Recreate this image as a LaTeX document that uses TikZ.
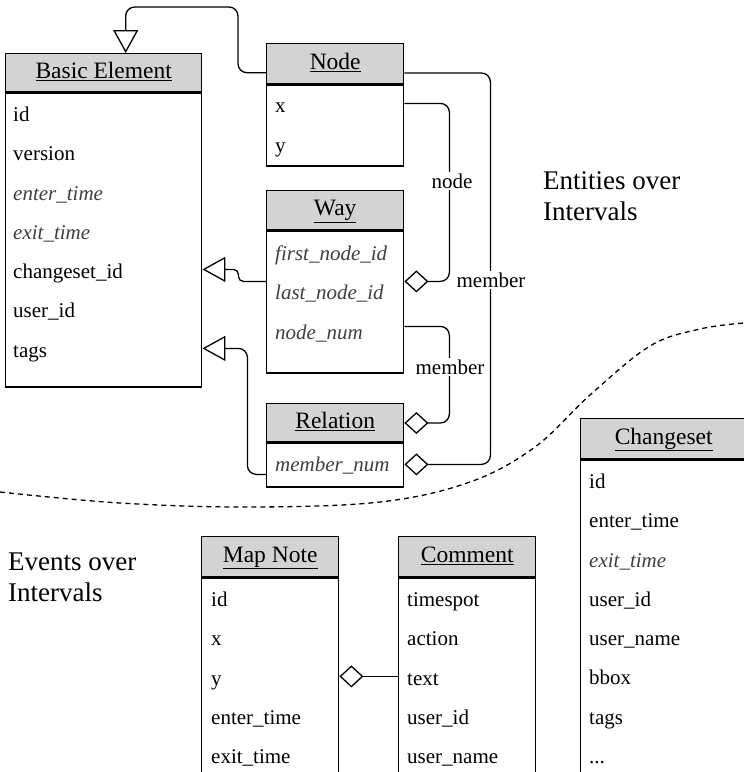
\documentclass[tikz,border=0pt]{standalone}
\usepackage{fontspec}
\setmainfont{Liberation Serif}
\usetikzlibrary{calc,arrows.meta}

\begin{document}
\begin{tikzpicture}[x=1pt, y=-1pt,
    clshead/.style={draw, line width=1.4pt, fill=hdrgray, anchor=north west, inner sep=0pt,
        text height=16pt, text depth=5pt,
        minimum height=39pt, font=\fontsize{23.5pt}{27pt}\selectfont},
    clsbody/.style={draw, line width=1.4pt, fill=white, anchor=north, inner sep=0pt},
    row/.style={anchor=base west, inner sep=0pt, font=\fontsize{21pt}{25pt}\selectfont},
    lbl/.style={fill=white, inner sep=2pt, font=\fontsize{21pt}{25pt}\selectfont},
    bigtxt/.style={anchor=west, align=left, inner sep=0pt, font=\fontsize{27pt}{31pt}\selectfont},
    gen/.style={line width=1.3pt, rounded corners=9pt, -{Triangle[open, length=23pt, width=25pt]}},
    agg/.style={line width=1.3pt, rounded corners=9pt, {Diamond[open, length=24pt, width=22pt]}-}]
    \useasboundingbox (0,0) rectangle (744,772);
    \clip (0,0) rectangle (744,772);
    \definecolor{hdrgray}{RGB}{211,211,211}
    \definecolor{optgray}{RGB}{64,64,64}
    \def\opt#1{{\itshape\color{optgray}#1}}
    \def\etc{.{}.{}.}
    \def\rowstep{39.3}

    % class boxes
    \node[clshead, minimum width=196pt, minimum height=38pt] (beHead) at (5,53) {\underline{Basic Element}};
    \node[clsbody, minimum width=196pt, minimum height=294pt] (beBody) at (beHead.south) {};
    \node[clshead, minimum width=137pt, minimum height=40pt] (nodeHead) at (266,43) {\underline{Node}};
    \node[clsbody, minimum width=137pt, minimum height=81pt] (nodeBody) at (nodeHead.south) {};
    \node[clshead, minimum width=137pt] (wayHead) at (266,190) {\underline{Way}};
    \node[clsbody, minimum width=137pt, minimum height=142pt] (wayBody) at (wayHead.south) {};
    \node[clshead, minimum width=137pt, minimum height=38pt] (relHead) at (266,403) {\underline{Relation}};
    \node[clsbody, minimum width=137pt, minimum height=44pt] (relBody) at (relHead.south) {};
    \node[clshead, minimum width=166pt, minimum height=40pt] (csHead) at (580,418) {\underline{Changeset}};
    \node[clsbody, minimum width=166pt, minimum height=360pt] (csBody) at (csHead.south) {};
    \node[clshead, minimum width=137pt, minimum height=40pt] (mnHead) at (201,536) {\underline{Map Note}};
    \node[clsbody, minimum width=137pt, minimum height=240pt] (mnBody) at (mnHead.south) {};
    \node[clshead, minimum width=137pt, minimum height=40pt] (cmHead) at (398,536) {\underline{Comment}};
    \node[clsbody, minimum width=137pt, minimum height=240pt] (cmBody) at (cmHead.south) {};

    % attributes (base line about 7pt under the row middle)
    \foreach \txt [count=\i] in {id, version, \opt{enter\_time}, \opt{exit\_time}, changeset\_id, user\_id, tags}
        \node[row] (be\i) at ($(beBody.north west)+(8,{29+\rowstep*(\i-1)})$) {\txt};
    \foreach \txt [count=\i] in {x, y}
        \node[row] (nd\i) at ($(nodeBody.north west)+(9,{28+40*(\i-1)})$) {\txt};
    \foreach \txt [count=\i] in {\opt{first\_node\_id}, \opt{last\_node\_id}, \opt{node\_num}}
        \node[row] (wy\i) at ($(wayBody.north west)+(9,{30+\rowstep*(\i-1)})$) {\txt};
    \node[row] (rl1) at ($(relBody.north west)+(9,29)$) {\opt{member\_num}};
    \foreach \txt [count=\i] in {id, enter\_time, \opt{exit\_time}, user\_id, user\_name, bbox, tags, \etc}
        \node[row] (cs\i) at ($(csBody.north west)+(9,{29+\rowstep*(\i-1)})$) {\txt};
    \foreach \txt [count=\i] in {id, x, y, enter\_time, exit\_time}
        \node[row] (mn\i) at ($(mnBody.north west)+(10,{29+\rowstep*(\i-1)})$) {\txt};
    \foreach \txt [count=\i] in {timespot, action, text, user\_id, user\_name}
        \node[row] (cm\i) at ($(cmBody.north west)+(9,{29+\rowstep*(\i-1)})$) {\txt};

    % generalisations
    \coordinate (genBend) at (238,7);
    \draw[gen] ([yshift=-9pt]nodeHead.west) -| (genBend) -| ([xshift=22pt]beHead.north);
    \draw[gen, rounded corners=5pt] ($(wayBody.north west)+(0,51)$) -| ($(beBody.north east)+(36,177)$) -- ($(beBody.north east)+(0,177)$);
    \draw[gen] ($(relBody.north west)+(0,32)$) -| ($(beBody.north east)+(45,256)$) -- ($(beBody.north east)+(0,256)$);

    % aggregations
    \draw[agg] ($(wayBody.north east)+(0,51)$) -| ($(nodeBody.north east)+(45,19)$) -- ($(nodeBody.north east)+(0,19)$);
    \draw[agg] ($(relBody.north east)+(0,22)$) -| ($(nodeHead.north east)+(86,30)$) -- ($(nodeHead.north east)+(0,30)$);
    \draw[agg] ($(relHead.north east)+(0,20)$) -| ($(wayBody.north east)+(45,96)$) -- ($(wayBody.north east)+(0,96)$);
    \draw[agg] ($(mnBody.north east)+(0,99)$) -- ($(cmBody.north west)+(0,99)$);

    \node[lbl] (lblNode) at (452,181) {node};
    \node[lbl] (lblMember) at (491,280) {member};
    \node[lbl] (lblWayMember) at (450,367) {member};

    % boundary between entities and events
    \draw[line width=1.3pt, dash pattern=on 5pt off 4pt] plot[smooth, tension=0.6] coordinates
        {(0,492) (120,503) (250,507) (380,502) (470,482) (535,447) (590,395) (650,346) (700,329) (744,323)};

    \node[bigtxt] (entLbl) at (543,196) {Entities over\\Intervals};
    \node[bigtxt] (evtLbl) at (8,577) {Events over\\Intervals};
\end{tikzpicture}
\end{document}
